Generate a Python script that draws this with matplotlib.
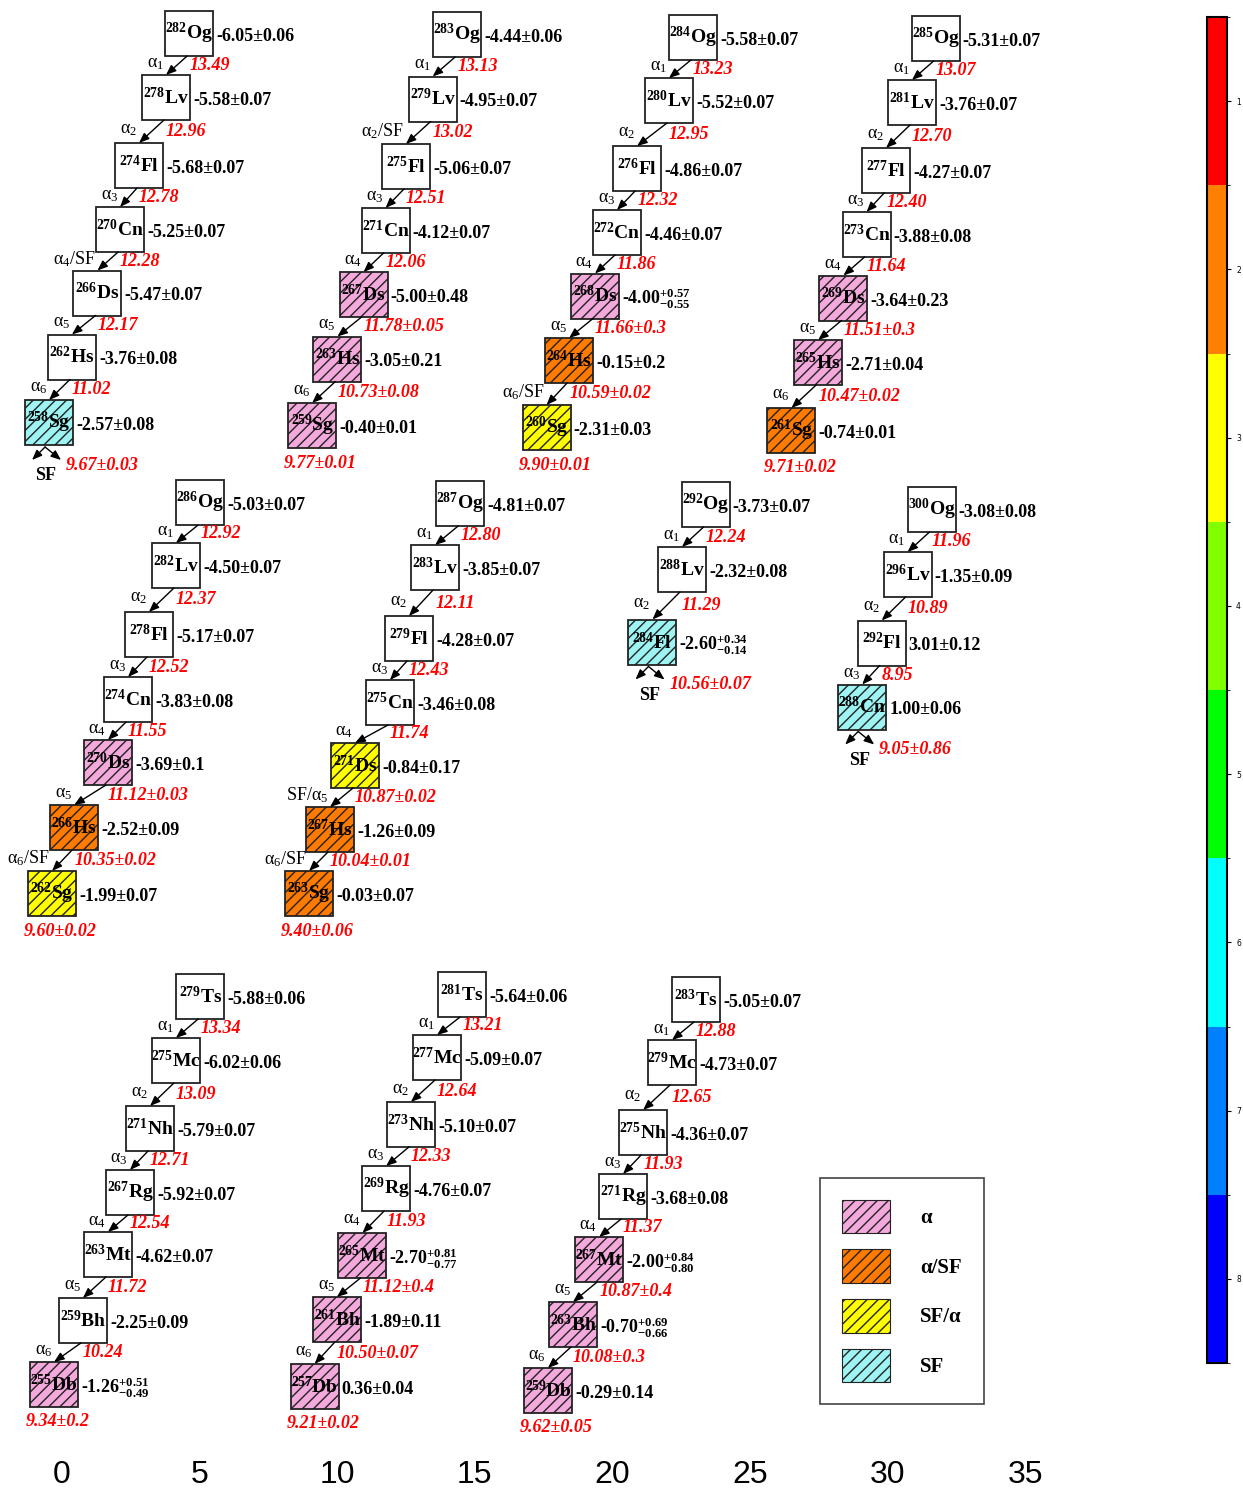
import re
import numpy as np
import matplotlib
matplotlib.use("Agg")
import matplotlib.pyplot as plt
from matplotlib.patches import Rectangle, Patch
from matplotlib.colors import ListedColormap, BoundaryNorm
from matplotlib.cm import ScalarMappable

plt.rcParams['font.family'] = 'Liberation Serif'
plt.rcParams['mathtext.fontset'] = 'custom'
plt.rcParams['mathtext.rm'] = 'Liberation Serif'
plt.rcParams['mathtext.bf'] = 'Liberation Serif:bold'
plt.rcParams['mathtext.it'] = 'Liberation Serif:italic'
plt.rcParams['hatch.linewidth'] = 1.0

# 1) Decay chain data (half-lives as log10(T1/2), Q-alpha in MeV)
og282_nuclei = ["282Og", "278Lv", "274Fl", "270Cn", "266Ds", "262Hs", "258Sg"]
og282_halflife = ["-6.05±0.06", "-5.58±0.07", "-5.68±0.07", "-5.25±0.07", "-5.47±0.07", "-3.76±0.08", "-2.57±0.08"]
og282_q = ["13.49", "12.96", "12.78", "12.28", "12.17", "11.02", "9.67±0.03"]
og282_decay = ["α1", "α2", "α3", "α4/SF", "α5", "α6"]
og282_mode = ["", "", "", "", "", "", "SF"]
og282_x = [4.62, 3.78, 2.80, 2.11, 1.29, 0.36, -0.47]
og282_y = [33.5, 97.5, 165.5, 229.5, 293, 357, 422.5]

og283_nuclei = ["283Og", "279Lv", "275Fl", "271Cn", "267Ds", "263Hs", "259Sg"]
og283_halflife = ["-4.44±0.06", "-4.95±0.07", "-5.06±0.07", "-4.12±0.07", "-5.00±0.48", "-3.05±0.21", "-0.40±0.01"]
og283_q = ["13.13", "13.02", "12.51", "12.06", "11.78±0.05", "10.73±0.08", "9.77±0.01"]
og283_decay = ["α1", "α2/SF", "α3", "α4", "α5", "α6"]
og283_mode = ["", "", "", "", "a", "a", "a"]
og283_x = [14.36, 13.47, 12.50, 11.76, 10.96, 10.01, 9.09]
og283_y = [34.5, 99, 166.5, 230.5, 294.5, 359, 425.5]

og284_nuclei = ["284Og", "280Lv", "276Fl", "272Cn", "268Ds", "264Hs", "260Sg"]
og284_halflife = ["-5.58±0.07", "-5.52±0.07", "-4.86±0.07", "-4.46±0.07", "-4.00 +0.57 -0.55", "-0.15±0.2", "-2.31±0.03"]
og284_q = ["13.23", "12.95", "12.32", "11.86", "11.66±0.3", "10.59±0.02", "9.90±0.01"]
og284_decay = ["α1", "α2", "α3", "α4", "α5", "α6/SF"]
og284_mode = ["", "", "", "", "a", "a/SF", "SF/a"]
og284_x = [22.93, 22.06, 20.90, 20.17, 19.37, 18.43, 17.61]
og284_y = [37.5, 100.5, 168.5, 232.5, 296, 360.5, 427.5]

og285_nuclei = ["285Og", "281Lv", "277Fl", "273Cn", "269Ds", "265Hs", "261Sg"]
og285_halflife = ["-5.31±0.07", "-3.76±0.07", "-4.27±0.07", "-3.88±0.08", "-3.64±0.23", "-2.71±0.04", "-0.74±0.01"]
og285_q = ["13.07", "12.70", "12.40", "11.64", "11.51±0.3", "10.47±0.02", "9.71±0.02"]
og285_decay = ["α1", "α2", "α3", "α4", "α5", "α6"]
og285_mode = ["", "", "", "", "a", "a", "a/SF"]
og285_x = [31.75, 30.89, 29.95, 29.24, 28.40, 27.48, 26.51]
og285_y = [38.5, 102.5, 170.5, 234.5, 298, 362.5, 430.5]

og286_nuclei = ["286Og", "282Lv", "278Fl", "274Cn", "270Ds", "266Hs", "262Sg"]
og286_halflife = ["-5.03±0.07", "-4.50±0.07", "-5.17±0.07", "-3.83±0.08", "-3.69±0.1", "-2.52±0.09", "-1.99±0.07"]
og286_q = ["12.92", "12.37", "12.52", "11.55", "11.12±0.03", "10.35±0.02", "9.60±0.02"]
og286_decay = ["α1", "α2", "α3", "α4", "α5", "α6/SF"]
og286_mode = ["", "", "", "", "a", "a/SF", "SF/a"]
og286_x = [5.02, 4.14, 3.16, 2.40, 1.67, 0.44, -0.36]
og286_y = [502.5, 565.5, 634.5, 699.5, 762.5, 827.5, 893.5]

og287_nuclei = ["287Og", "283Lv", "279Fl", "275Cn", "271Ds", "267Hs", "263Sg"]
og287_halflife = ["-4.81±0.07", "-3.85±0.07", "-4.28±0.07", "-3.46±0.08", "-0.84±0.17", "-1.26±0.09", "-0.03±0.07"]
og287_q = ["12.80", "12.11", "12.43", "11.74", "10.87±0.02", "10.04±0.01", "9.40±0.06"]
og287_decay = ["α1", "α2", "α3", "α4", "SF/α5", "α6/SF"]
og287_mode = ["", "", "", "", "SF/a", "a/SF", "a/SF"]
og287_x = [14.47, 13.56, 12.61, 11.92, 10.65, 9.74, 8.98]
og287_y = [503.5, 567.5, 638.5, 702.5, 765.5, 829.5, 893.5]

og292_nuclei = ["292Og", "288Lv", "284Fl"]
og292_halflife = ["-3.73±0.07", "-2.32±0.08", "-2.60 +0.34 -0.14"]
og292_q = ["12.24", "11.29", "10.56±0.07"]
og292_decay = ["α1", "α2"]
og292_mode = ["", "", "SF"]
og292_x = [23.39, 22.53, 21.46]
og292_y = [504.5, 569.5, 642]

og300_nuclei = ["300Og", "296Lv", "292Fl", "288Cn"]
og300_halflife = ["-3.08±0.08", "-1.35±0.09", "3.01±0.12", "1.00±0.06"]
og300_q = ["11.96", "10.89", "8.95", "9.05±0.86"]
og300_decay = ["α1", "α2", "α3"]
og300_mode = ["", "", "", "SF"]
og300_x = [31.60, 30.73, 29.79, 29.08]
og300_y = [509.5, 574.5, 643, 707]

ts279_nuclei = ["279Ts", "275Mc", "271Nh", "267Rg", "263Mt", "259Bh", "255Db"]
ts279_halflife = ["-5.88±0.06", "-6.02±0.06", "-5.79±0.07", "-5.92±0.07", "-4.62±0.07", "-2.25±0.09", "-1.26 +0.51 -0.49"]
ts279_q = ["13.34", "13.09", "12.71", "12.54", "11.72", "10.24", "9.34±0.2"]
ts279_decay = ["α1", "α2", "α3", "α4", "α5", "α6"]
ts279_mode = ["", "", "", "", "", "", "a"]
ts279_x = [5.02, 4.14, 3.20, 2.47, 1.67, 0.76, -0.29]
ts279_y = [996.5, 1060.5, 1128.5, 1192.5, 1254.5, 1320.5, 1384.5]

ts281_nuclei = ["281Ts", "277Mc", "273Nh", "269Rg", "265Mt", "261Bh", "257Db"]
ts281_halflife = ["-5.64±0.06", "-5.09±0.07", "-5.10±0.07", "-4.76±0.07", "-2.70 +0.81 -0.77", "-1.89±0.11", "0.36±0.04"]
ts281_q = ["13.21", "12.64", "12.33", "11.93", "11.12±0.4", "10.50±0.07", "9.21±0.02"]
ts281_decay = ["α1", "α2", "α3", "α4", "α5", "α6"]
ts281_mode = ["", "", "", "", "a", "a", "a"]
ts281_x = [14.54, 13.63, 12.68, 11.78, 10.92, 9.99, 9.18]
ts281_y = [994.5, 1057.5, 1124.5, 1188.5, 1255.5, 1319.5, 1386.5]

ts283_nuclei = ["283Ts", "279Mc", "275Nh", "271Rg", "267Mt", "263Bh", "259Db"]
ts283_halflife = ["-5.05±0.07", "-4.73±0.07", "-4.36±0.07", "-3.68±0.08", "-2.00 +0.84 -0.80", "-0.70 +0.69 -0.66", "-0.29±0.14"]
ts283_q = ["12.88", "12.65", "11.93", "11.37", "10.87±0.4", "10.08±0.3", "9.62±0.05"]
ts283_decay = ["α1", "α2", "α3", "α4", "α5", "α6"]
ts283_mode = ["", "", "", "", "a", "a", "a"]
ts283_x = [23.04, 22.17, 21.12, 20.39, 19.52, 18.57, 17.66]
ts283_y = [999.5, 1062.5, 1132.5, 1196.5, 1259.5, 1324.5, 1390.5]

# Legend + colour bar
mode_keys = ["a", "a/SF", "SF/a", "SF"]
mode_labels = ["α", "α/SF", "SF/α", "SF"]
mode_colors = {"a": "#f4a9dc", "a/SF": "#ff7a00", "SF/a": "#ffff00", "SF": "#9ef3f3"}
cbar_levels = [1, 2, 3, 4, 5, 6, 7, 8]
cbar_colors = ["#ff0000", "#ff8000", "#ffff00", "#80ff00", "#00ff00", "#00ffff", "#0080ff", "#0000ff"]

chains = []
for name in ["og282", "og283", "og284", "og285", "og286", "og287", "og292", "og300",
             "ts279", "ts281", "ts283"]:
    g = globals()
    chains.append({k: g[f"{name}_{k}"] for k in
                   ["nuclei", "halflife", "q", "decay", "mode", "x", "y"]})

# 2) Figure set-up
W, H = 1243, 1492
fig = plt.figure(figsize=(W / 100, H / 100), dpi=100)
ax = fig.add_axes([0, 36 / H, 1, 1456 / H])
XLIM = (-2.253, 42.92)
ax.set_xlim(*XLIM)
ax.set_ylim(1456, 0)
PX = (XLIM[1] - XLIM[0]) / W   # x units per pixel
BOX_W = 48 * PX
BOX_H = 45

for s in ax.spines.values():
    s.set_visible(False)
ax.set_yticks([])
ax.set_xticks(range(0, 36, 5))
ax.tick_params(axis='x', length=0, pad=3, labelsize=23)
for lbl in ax.get_xticklabels():
    lbl.set_family(['Liberation Sans Narrow', 'DejaVu Sans Condensed', 'Liberation Sans'])


def nuclide_label(name):
    mass, sym = re.match(r"(\d+)(\D+)", name).groups()
    return r"$^{\mathbf{%s}}$%s" % (mass, sym)


def halflife_label(s):
    if "±" in s:
        return s
    v, up, dn = s.split()
    return r"%s$^{\mathbf{%s}}_{\mathbf{%s}}$" % (v, up, dn)


def decay_label(s):
    return re.sub(r"α(\d)", r"α$_{\1}$", s)


arrow_kw = dict(arrowstyle='-|>,head_length=0.5,head_width=0.2', color='black',
                lw=1.0, shrinkA=0, shrinkB=0, mutation_scale=12)
red_kw = dict(color='red', fontsize=13, fontweight='bold', style='italic',
              ha='left', va='center')

# 3) Draw chains
for ch in chains:
    n = len(ch["nuclei"])
    for i in range(n):
        cx, cy = ch["x"][i], ch["y"][i]
        mode = ch["mode"][i]
        rect = Rectangle((cx - BOX_W / 2, cy - BOX_H / 2), BOX_W, BOX_H,
                         facecolor=mode_colors.get(mode, 'white'),
                         edgecolor='#222222', lw=1.3,
                         hatch='///' if mode else None)
        ax.add_patch(rect)
        ax.text(cx, cy, nuclide_label(ch["nuclei"][i]), ha='center', va='center',
                fontsize=14, fontweight='bold')
        ax.text(cx + BOX_W / 2 + 3 * PX, cy + 3, halflife_label(ch["halflife"][i]),
                ha='left', va='center', fontsize=13, fontweight='bold')

        if i < n - 1:
            nx, ny = ch["x"][i + 1], ch["y"][i + 1]
            y0 = cy + BOX_H / 2
            y1 = ny - BOX_H / 2
            ym = (y0 + y1) / 2
            ax.annotate('', xy=(nx, y1), xytext=(cx - 2 * PX, y0), arrowprops=arrow_kw)
            ax.text(cx, ym, ch["q"][i], **red_kw)
            ax.text(nx - 2 * PX, ym - 2, decay_label(ch["decay"][i]),
                    ha='right', va='center', fontsize=13)
        else:
            bottom = cy + BOX_H / 2
            if mode == "SF":
                apex = (cx - 4 * PX, bottom + 2)
                for dx in (-17, 12):
                    ax.annotate('', xy=(cx + dx * PX, bottom + 15), xytext=apex,
                                arrowprops=arrow_kw)
                ax.text(cx - 3 * PX, bottom + 31, "SF", ha='center', va='center',
                        fontsize=13, fontweight='bold')
                ax.text(cx + 17 * PX, bottom + 20, ch["q"][i], **red_kw)
            else:
                ax.text(cx - BOX_W / 2 - 4 * PX, bottom + 15, ch["q"][i], **red_kw)

# 4) Legend
handles = [Patch(facecolor=mode_colors[k], edgecolor='#222222', hatch='///', lw=0.8)
           for k in mode_keys]
leg = ax.legend(handles, mode_labels, loc='upper left',
                bbox_to_anchor=(XLIM[0] + 820 * PX, 1178), bbox_transform=ax.transData,
                borderaxespad=0, borderpad=1.05, handlelength=2.3, handleheight=2.1,
                labelspacing=0.77, handletextpad=1.45, fancybox=False,
                edgecolor='#444444', framealpha=1,
                prop={'family': 'Liberation Serif', 'weight': 'bold', 'size': 15})
leg.get_frame().set_linewidth(1.2)

# 5) Colour bar
cax = fig.add_axes([1207 / W, 1 - 1363 / H, 20 / W, 1346 / H])
cmap = ListedColormap(cbar_colors)
norm = BoundaryNorm(np.arange(0.5, 9.5, 1), cmap.N)
cb = fig.colorbar(ScalarMappable(norm=norm, cmap=cmap), cax=cax, ticks=cbar_levels)
cb.ax.invert_yaxis()
cb.ax.tick_params(labelsize=5.5, length=3, width=0.8)
for lbl in cb.ax.get_yticklabels():
    lbl.set_family('DejaVu Sans')
cb.outline.set_linewidth(1.5)

fig.savefig("out.png", dpi=100)
